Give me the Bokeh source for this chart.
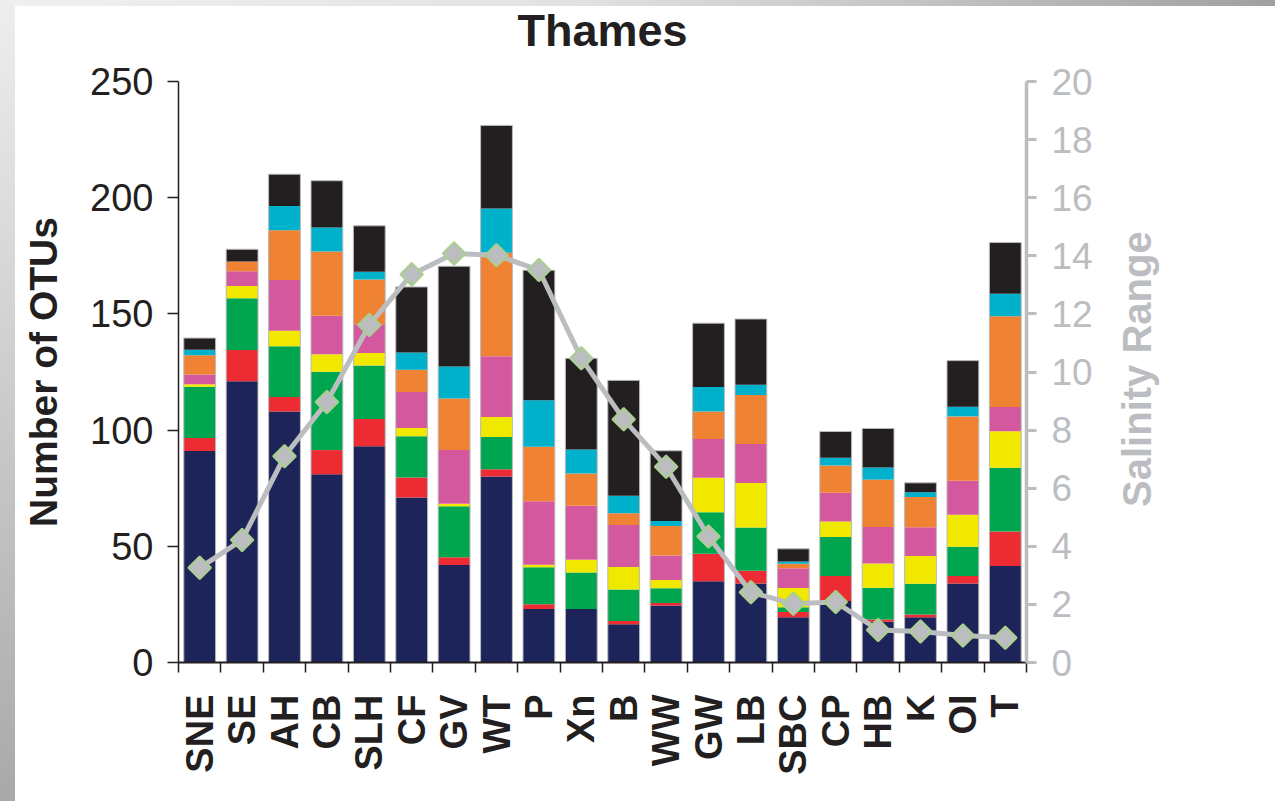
import math

from bokeh.plotting import figure
from bokeh.models import ColumnDataSource, Range1d, LinearAxis, FixedTicker
from bokeh.embed import file_html
from bokeh.resources import INLINE

# Sampling sites along the Thames, seaward to freshwater
sites = ["SNE", "SE", "AH", "CB", "SLH", "CF", "GV", "WT", "P", "Xn",
         "B", "WW", "GW", "LB", "SBC", "CP", "HB", "K", "OI", "T"]

# OTU counts per taxonomic group (stacked bottom to top)
navy = [91, 121, 108, 81, 93, 71, 42, 80, 23, 23,
        16.5, 24.5, 35, 34, 19.5, 26.5, 17.5, 19.5, 34, 41.5]
red = [5.6, 13.5, 6.2, 10.4, 11.8, 8.6, 3.3, 3.2, 2.1, 0,
       1.4, 1.1, 11.8, 5.5, 2.2, 10.7, 1.0, 1.2, 3.2, 14.9]
green = [22, 22.2, 21.9, 33.7, 23, 17.7, 21.9, 13.8, 15.9, 15.7,
         13.5, 6.4, 17.9, 18.6, 2.1, 16.8, 13.7, 13.2, 12.6, 27.4]
yellow = [1.1, 5.3, 6.6, 7.5, 5.4, 3.6, 1.1, 8.6, 1.1, 5.5,
          9.7, 3.5, 14.8, 19.1, 8.3, 6.7, 10.4, 11.9, 13.8, 15.7]
pink = [4.2, 6.3, 21.9, 16.6, 12.4, 15.5, 23.1, 26.2, 27.3, 23.2,
        18.1, 10.5, 16.7, 16.8, 8.5, 12.3, 15.7, 12.4, 14.6, 10.4]
orange = [8.3, 4.3, 21.4, 27.6, 19.2, 9.6, 22.2, 44.5, 23.4, 13.9,
          5.0, 12.7, 11.8, 21.1, 1.9, 11.8, 20.4, 13.0, 27.7, 39.1]
cyan = [2.4, 0, 10.4, 10.4, 3.3, 7.4, 13.8, 19.1, 20.0, 10.4,
        7.5, 2.2, 10.5, 4.4, 1.0, 3.3, 5.2, 2.1, 4.2, 9.7]
black = [5.0, 5.2, 13.7, 20.1, 19.8, 28.2, 43.1, 35.7, 56.0, 39.2,
         49.7, 30.2, 27.5, 28.3, 5.4, 11.3, 16.8, 4.0, 19.8, 22.0]

# Salinity range at each site (right axis)
salinity = [3.26, 4.22, 7.10, 8.97, 11.62, 13.36, 14.08, 14.02, 13.51, 10.47,
            8.37, 6.74, 4.34, 2.42, 2.02, 2.08, 1.12, 1.07, 0.93, 0.85]

otu_ticks = [0, 50, 100, 150, 200, 250]
salinity_ticks = [0, 2, 4, 6, 8, 10, 12, 14, 16, 18, 20]

groups = ["navy", "red", "green", "yellow", "pink", "orange", "cyan", "black"]
series = [navy, red, green, yellow, pink, orange, cyan, black]
colors = ["#1d2459", "#ed2b33", "#00a64f", "#f1e800",
          "#d3589e", "#f08233", "#00b1cc", "#231f20"]

idx = list(range(len(sites)))
data = {"x": idx}
for g, s in zip(groups, series):
    data[g] = s
data["total"] = [sum(v) for v in zip(*series)]
data["salinity"] = salinity
src = ColumnDataSource(data)

FONT = "Liberation Sans"
DARK = "#231f20"
GREY = "#bcbdc0"

p = figure(width=1275, height=801,
           x_range=Range1d(-0.5, len(sites) - 0.5),
           y_range=Range1d(0, 250),
           output_backend="svg", toolbar_location=None,
           min_border_left=178, min_border_right=249,
           min_border_top=81, min_border_bottom=139)

p.border_fill_color = None
p.background_fill_color = "white"
p.outline_line_color = None
p.styles = {
    "background": (
        "linear-gradient(to bottom, #eeeeee, #a9a9a9) 0 0 / 15px 100% no-repeat, "
        "linear-gradient(to right, #f0f0f0 0%, #e2e2e2 45%, #c6c6c6 70%, #a0a0a0 100%) 0 0 / 100% 6px no-repeat, "
        "#ffffff"
    )
}
p.xgrid.visible = False
p.ygrid.visible = False

# bottom axis: site names at bar centres, ticks between bars
xa = p.below[0]
xa.ticker = FixedTicker(ticks=idx, minor_ticks=[i - 0.5 for i in range(len(sites) + 1)])
xa.major_label_overrides = {i: s for i, s in enumerate(sites)}
xa.major_label_orientation = math.pi / 2
xa.major_tick_out = 0
xa.major_tick_in = 0
xa.minor_tick_out = 10
xa.minor_tick_in = 0
xa.minor_tick_line_color = DARK
xa.minor_tick_line_width = 1.5
xa.axis_line_color = DARK
xa.axis_line_width = 2
xa.major_label_standoff = 22
xa.major_label_text_font = FONT
xa.major_label_text_font_size = "38px"
xa.major_label_text_font_style = "bold"
xa.major_label_text_color = DARK

# chart heading, carried by a bare axis above the plot
top = LinearAxis(ticker=FixedTicker(ticks=[]), axis_label="Thames")
top.axis_line_color = None
top.major_tick_line_color = None
top.minor_tick_line_color = None
top.major_tick_out = 0
top.minor_tick_out = 0
top.major_label_standoff = 0
top.axis_label_standoff = 26
top.axis_label_text_font = FONT
top.axis_label_text_font_size = "45px"
top.axis_label_text_font_style = "bold"
top.axis_label_text_color = DARK
p.add_layout(top, "above")

# stacked OTU bars
p.vbar_stack(groups, x="x", width=0.75, color=colors, line_color=None, source=src)
p.vbar(x="x", top="total", width=0.75, fill_color=None,
       line_color="#b9b9b9", line_width=1, source=src)

# left axis: number of OTUs
ya = p.left[0]
ya.ticker = FixedTicker(ticks=otu_ticks)
ya.axis_label = "Number of OTUs"
ya.axis_label_text_font = FONT
ya.axis_label_text_font_size = "39px"
ya.axis_label_text_font_style = "bold"
ya.axis_label_text_color = DARK
ya.axis_label_standoff = 22
ya.major_tick_out = 11
ya.major_tick_in = 0
ya.minor_tick_out = 0
ya.minor_tick_in = 0
ya.major_tick_line_color = DARK
ya.major_tick_line_width = 1.5
ya.axis_line_color = DARK
ya.axis_line_width = 1.5
ya.major_label_standoff = 14
ya.major_label_text_font = FONT
ya.major_label_text_font_size = "38px"
ya.major_label_text_color = DARK

# right axis: salinity range; the label reads bottom to top and starts from
# the foot of the axis, so it is led in with non-breaking spaces to centre it
p.extra_y_ranges = {"sal": Range1d(0, 20)}
ra = LinearAxis(y_range_name="sal", ticker=FixedTicker(ticks=salinity_ticks))
ra.axis_label = "\u00a0" * 14 + "Salinity Range"
ra.axis_label_text_font = FONT
ra.axis_label_text_font_size = "40px"
ra.axis_label_text_font_style = "bold"
ra.axis_label_text_color = GREY
ra.axis_label_standoff = 41
ra.axis_label_orientation = math.pi / 2
ra.axis_label_align = "start"
ra.major_tick_out = 10
ra.major_tick_in = 0
ra.minor_tick_out = 0
ra.minor_tick_in = 0
ra.major_tick_line_color = GREY
ra.major_tick_line_width = 3
ra.axis_line_color = GREY
ra.axis_line_width = 3.5
ra.major_label_standoff = 15
ra.major_label_text_font = FONT
ra.major_label_text_font_size = "37px"
ra.major_label_text_color = GREY
p.add_layout(ra, "right")

# salinity line with diamond markers
p.line("x", "salinity", y_range_name="sal", line_color=GREY, line_width=5, source=src)
p.scatter("x", "salinity", y_range_name="sal", marker="square", angle=math.pi / 4,
          size=16, fill_color=GREY, line_color="#a8d08d", line_width=2, source=src)

open("out.html", "w").write(file_html(p, INLINE))
